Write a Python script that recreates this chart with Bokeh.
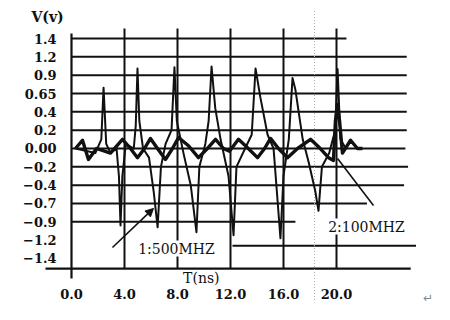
import numpy as np
from bokeh.plotting import figure
from bokeh.models import Range1d, LinearAxis, FixedTicker, Label, Arrow, NormalHead
from bokeh.embed import file_html
from bokeh.resources import INLINE

# ---------------- data ----------------
y_tick_values = [-1.4, -1.2, -0.9, -0.7, -0.4, -0.2, 0.0, 0.2, 0.4, 0.65, 0.9, 1.2, 1.4]
y_tick_labels = ["−1.4", "−1.2", "−0.9", "−0.7", "−0.4", "−0.2", "0.00",
                 "0.2", "0.4", "0.65", "0.9", "1.2", "1.4"]
x_tick_values = [0, 4, 8, 12, 16, 20]
x_tick_labels = ["0.0", "4.0", "8.0", "12.0", "16.0", "20.0"]

# trace 1 : 500 MHz (thin)
t_500 = [0.3, 1.8, 2.25, 2.42, 2.62, 2.95, 3.4, 3.58, 3.70, 3.84, 4.1, 4.7, 4.85, 4.98,
         5.12, 5.4, 5.85, 6.2, 6.5, 6.75, 7.1, 7.55, 7.77, 7.95, 8.45, 9.0, 9.43, 9.65,
         10.1, 10.35, 10.57, 10.85, 11.25, 11.4, 11.85, 12.23, 12.45, 13.1, 13.6, 13.89,
         14.25, 14.8, 15.25, 15.77, 16.0, 16.4, 16.68, 16.9, 17.45, 17.9, 18.4, 18.64,
         18.9, 19.45, 19.9, 20.08, 20.3, 20.7]
v_500 = [0.0, -0.05, 0.1, 0.73, 0.05, -0.05, 0.0, -0.3, -0.96, -0.3, 0.05, 0.0, 0.25, 1.01,
         0.3, 0.0, -0.1, -0.5, -0.99, -0.2, 0.05, 0.2, 1.03, 0.3, -0.05, -0.4, -1.07, -0.2,
         0.05, 0.3, 1.04, 0.45, 0.1, 0.0, -0.3, -1.12, -0.2, 0.0, 0.15, 1.01,
         0.6, 0.15, 0.0, -1.17, -0.3, 0.1, 0.86, 0.7, 0.1, -0.15, -0.5, -0.78,
         -0.2, -0.05, 0.2, 1.0, 0.1, 0.0]

# trace 2 : 100 MHz (thick)
t_100 = [0.30, 0.83, 1.28, 1.89, 2.94, 3.85, 4.45, 4.98, 5.51, 5.96, 6.49, 7.09, 7.62,
         8.08, 8.83, 9.58, 10.26, 10.87, 11.47, 11.92, 12.6, 13.13, 14.04, 14.57, 15.02,
         15.62, 16.30, 17.06, 18.04, 18.64, 19.40, 19.77, 19.92, 20.08, 20.23, 20.45,
         21.06, 21.58, 21.96]
v_100 = [0.0, 0.09, -0.12, 0.0, -0.05, 0.1, 0.0, -0.1, 0.0, 0.11, 0.0, -0.12, 0.0,
         0.12, 0.03, -0.1, 0.0, 0.1, 0.0, -0.03, 0.1, 0.03, -0.1, 0.0, 0.11,
         0.0, -0.1, 0.0, 0.1, 0.02, -0.1, -0.13, 0.3, 0.5, 0.3, -0.05,
         0.09, 0.0, 0.0]

# ---------------- scale: labelled levels are evenly spaced ----------------
slots = np.arange(-6, 7)
def to_slot(v):
    return np.interp(v, y_tick_values, slots)

p = figure(width=434, height=304,
           x_range=Range1d(-5.358, 27.396), y_range=Range1d(-8.511, 8.074),
           x_axis_type=None, y_axis_type=None,
           toolbar_location=None, output_backend="svg",
           min_border=0, outline_line_color=None, background_fill_color="white")

INK = "#111111"

# horizontal rules (slot, x-start, x-end)
h_rules = [(6, 0, 20.75), (5, 0, 25.3), (4, 0, 25.3), (3, 0, 25.3), (2, 0, 25.3),
           (1, 0, 25.3), (0, 0, 25.2), (-1, 0, 25.4), (-2, 0, 25.1), (-3, 0, 22.3),
           (-4, 0, 16.9), (-5.3, 12.15, 26.0)]
p.segment(x0=[r[1] for r in h_rules], x1=[r[2] for r in h_rules],
          y0=[r[0] for r in h_rules], y1=[r[0] for r in h_rules],
          line_color=INK, line_width=2)

BOTTOM = -6.55
# bottom base line and left axis line
p.segment(x0=[-1.96], x1=[25.6], y0=[BOTTOM], y1=[BOTTOM], line_color=INK, line_width=2.2)
p.segment(x0=[0], x1=[0], y0=[6.27], y1=[-7.09], line_color=INK, line_width=2.2)
# vertical rules at x ticks
vx = x_tick_values[1:]
p.segment(x0=vx, x1=vx, y0=[6.55] * len(vx), y1=[BOTTOM] * len(vx),
          line_color=INK, line_width=2)
# faint dotted marker
p.segment(x0=[18.34], x1=[18.34], y0=[7.5], y1=[-8.4],
          line_color="#b0b0b0", line_width=1, line_dash="1 2")

# traces
p.line(t_100, to_slot(v_100), line_color=INK, line_width=3.4, line_join="round")
p.line(t_500, to_slot(v_500), line_color=INK, line_width=2, line_join="round")

# axes
yaxis = LinearAxis(fixed_location=0,
                   ticker=FixedTicker(ticks=[float(s) for s in slots]),
                   major_label_overrides={float(s): lab for s, lab in zip(slots, y_tick_labels)},
                   axis_line_color=None, major_tick_line_color=None,
                   minor_tick_line_color=None, major_label_standoff=9,
                   major_label_text_font="DejaVu Serif",
                   major_label_text_font_size="13px",
                   major_label_text_font_style="bold",
                   major_label_text_color=INK)
p.add_layout(yaxis, "left")

xaxis = LinearAxis(fixed_location=BOTTOM,
                   ticker=FixedTicker(ticks=[float(x) for x in x_tick_values]),
                   major_label_overrides={float(x): lab for x, lab in zip(x_tick_values, x_tick_labels)},
                   axis_line_color=None, major_tick_line_color=None,
                   minor_tick_line_color=None, major_label_standoff=14,
                   major_label_text_font="DejaVu Serif",
                   major_label_text_font_size="13px",
                   major_label_text_font_style="bold",
                   major_label_text_color=INK)
p.add_layout(xaxis, "below")

# axis titles
p.add_layout(Label(x=-1.81, y=7.15, text="V(v)", text_align="center", text_baseline="middle",
                   text_font="DejaVu Serif", text_font_size="14px", text_font_style="bold",
                   text_color=INK))
p.add_layout(Label(x=9.8, y=-7.09, text="T(ns)", text_align="center", text_baseline="middle",
                   text_font="DejaVu Serif", text_font_size="14px", text_color=INK))

# series annotations
p.add_layout(Arrow(end=NormalHead(size=8, fill_color=INK, line_color=INK),
                   x_start=3.09, y_start=-5.4, x_end=6.19, y_end=-3.27,
                   line_color=INK, line_width=1.6))
p.segment(x0=[22.79], x1=[20.08], y0=[-3.11], y1=[-0.55], line_color=INK, line_width=1.6)
p.add_layout(Label(x=7.92, y=-5.46, text="1:500MHZ", text_align="center", text_baseline="middle",
                   text_font="DejaVu Serif", text_font_size="14px", text_color=INK,
                   background_fill_color="white"))
p.add_layout(Label(x=22.26, y=-4.26, text="2:100MHZ", text_align="center", text_baseline="middle",
                   text_font="DejaVu Serif", text_font_size="14px", text_color=INK,
                   background_fill_color="white"))
p.add_layout(Label(x=26.9, y=-8.13, text="↵", text_align="center", text_baseline="middle",
                   text_font="DejaVu Sans", text_font_size="12px", text_color="#888888"))

open("out.html", "w").write(file_html(p, INLINE))
